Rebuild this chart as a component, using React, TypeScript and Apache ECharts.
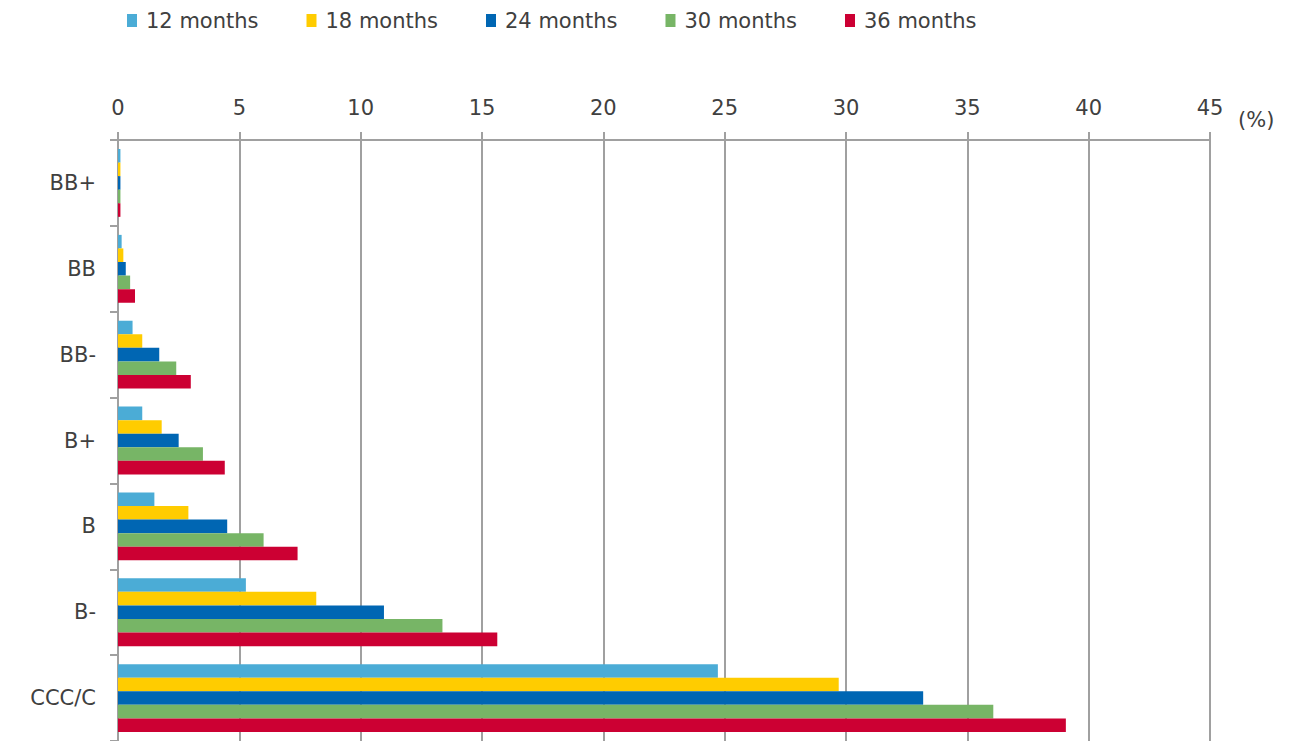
import React, { useEffect, useRef } from "react";
import * as echarts from "echarts";

const categories = ["BB+", "BB", "BB-", "B+", "B", "B-", "CCC/C"];
const seriesNames = ["12 months", "18 months", "24 months", "30 months", "36 months"];
const m12 = [0.1, 0.15, 0.6, 1.0, 1.5, 5.27, 24.72];
const m18 = [0.1, 0.22, 1.0, 1.8, 2.9, 8.17, 29.7];
const m24 = [0.1, 0.32, 1.7, 2.5, 4.5, 10.96, 33.18];
const m30 = [0.1, 0.5, 2.4, 3.5, 6.0, 13.37, 36.07];
const m36 = [0.1, 0.7, 3.0, 4.4, 7.4, 15.63, 39.06];
const colors = ["#4bacd6", "#ffcc00", "#0066b3", "#77b566", "#cc0033"];
const xMin = 0;
const xMax = 45;
const xInterval = 5;

export default function App() {
  const ref = useRef<HTMLDivElement>(null);
  useEffect(() => {
    if (!ref.current) return;
    const chart = echarts.init(ref.current, undefined, { renderer: "svg" });
    const font = "DejaVu Sans";
    const textColor = "#404040";
    const data = [m12, m18, m24, m30, m36];
    chart.setOption({
      animation: false,
      color: colors,
      legend: {
        top: 5,
        left: 122,
        itemWidth: 10,
        itemHeight: 13,
        itemGap: 48,
        icon: "rect",
        textStyle: { fontFamily: font, fontSize: 21, color: textColor, padding: [0, 0, 0, 4] },
        data: seriesNames,
      },
      grid: { left: 118, right: 80, top: 140, bottom: 0, containLabel: false },
      xAxis: {
        type: "value",
        position: "top",
        min: xMin,
        max: xMax,
        interval: xInterval,
        axisLine: { show: true, lineStyle: { color: "#a0a0a0", width: 2 } },
        axisTick: { show: true, length: 8, lineStyle: { color: "#a0a0a0", width: 2 } },
        axisLabel: { margin: 22, fontFamily: font, fontSize: 21, color: textColor },
        splitLine: { show: true, lineStyle: { color: "#a0a0a0", width: 2 } },
      },
      yAxis: {
        type: "category",
        inverse: true,
        data: categories,
        axisLine: { show: true, lineStyle: { color: "#a0a0a0", width: 2 } },
        axisTick: { show: true, length: 8, lineStyle: { color: "#a0a0a0", width: 2 } },
        axisLabel: { margin: 22, fontFamily: font, fontSize: 21, color: textColor },
      },
      graphic: [
        {
          type: "text",
          left: 1238,
          top: 109,
          style: { text: "(%)", fontFamily: font, fontSize: 21, fill: textColor },
        },
      ],
      series: seriesNames.map((name, i) => ({
        name,
        type: "bar",
        data: data[i],
        barGap: "0%",
        barCategoryGap: "21%",
      })),
    });
    return () => chart.dispose();
  }, []);
  return (
    <div
      ref={ref}
      style={{ position: "absolute", left: 0, top: 0, width: 1290, height: 741, background: "#fff" }}
    />
  );
}
